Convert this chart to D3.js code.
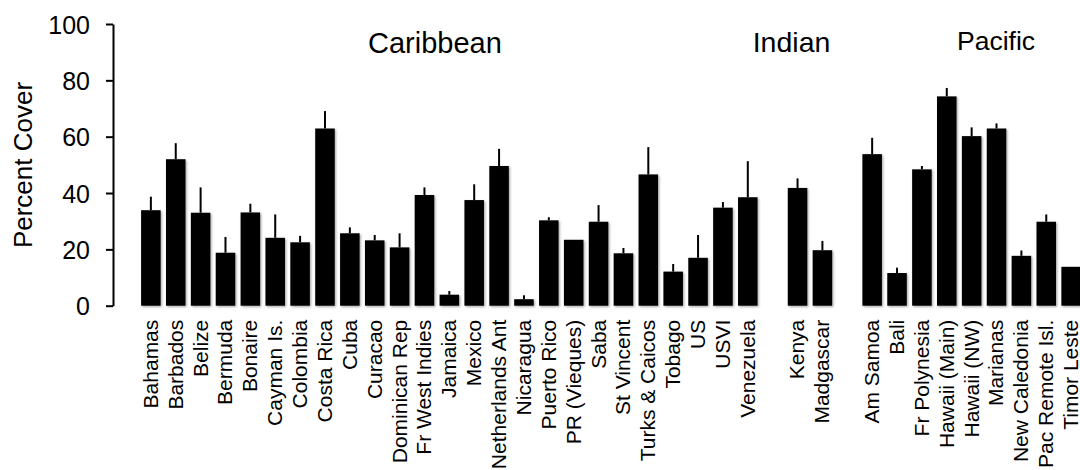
<!DOCTYPE html>
<html>
<head>
<meta charset="utf-8">
<script src="https://cdn.jsdelivr.net/npm/d3@7/dist/d3.min.js"></script>
<style>
  html, body { margin: 0; padding: 0; background: #fff; }
  svg { display: block; font-family: "Liberation Sans", Arial, Helvetica, sans-serif; }
</style>
</head>
<body>
<svg id="chart" width="1080" height="470"></svg>
<script>
// Percent cover by location, grouped by ocean region
const caribbean = ["Bahamas", "Barbados", "Belize", "Bermuda", "Bonaire", "Cayman Is.", "Colombia",
  "Costa Rica", "Cuba", "Curacao", "Dominican Rep", "Fr West Indies", "Jamaica", "Mexico",
  "Netherlands Ant", "Nicaragua", "Puerto Rico", "PR (Vieques)", "Saba", "St Vincent",
  "Turks & Caicos", "Tobago", "US", "USVI", "Venezuela"];
const caribbeanCover = [33.9, 52.0, 33.0, 18.8, 33.1, 24.1, 22.5, 62.9, 25.7, 23.2, 20.7, 39.3, 3.9,
  37.5, 49.6, 2.3, 30.3, 23.4, 29.8, 18.6, 46.6, 12.1, 17.0, 34.8, 38.5];
const caribbeanErr = [4.8, 5.7, 9.0, 5.6, 3.1, 8.3, 2.3, 6.2, 2.1, 1.9, 5.0, 2.7, 1.3, 5.6, 6.1,
  1.4, 1.1, 0, 5.9, 1.9, 9.7, 2.7, 8.1, 2.0, 12.8];

const indian = ["Kenya", "Madgascar"];
const indianCover = [41.8, 19.7];
const indianErr = [3.4, 3.3];

const pacific = ["Am Samoa", "Bali", "Fr Polynesia", "Hawaii (Main)", "Hawaii (NW)", "Marianas",
  "New Caledonia", "Pac Remote Isl.", "Timor Leste"];
const pacificCover = [53.8, 11.6, 48.4, 74.3, 60.2, 62.9, 17.7, 29.8, 13.8];
const pacificErr = [5.8, 1.9, 1.2, 3.0, 3.1, 1.8, 1.9, 2.6, 0];

const yTicks = [0, 20, 40, 60, 80, 100];
const regions = [
  { name: "Caribbean", anchor: "Fr West Indies", shift: 10.5, size: 29, base: 53 },
  { name: "Indian", anchor: "Kenya", shift: -6, size: 28.5, base: 52 },
  { name: "Pacific", anchor: "Marianas", shift: -0.5, size: 26.5, base: 49.5 }
];

// Build rows, with an empty slot between regions
const rows = [];
const addRegion = (names, cover, err) => names.forEach((n, i) => rows.push({ name: n, value: cover[i], err: err[i] }));
addRegion(caribbean, caribbeanCover, caribbeanErr);
rows.push({ name: "__gap1", gap: true });
addRegion(indian, indianCover, indianErr);
rows.push({ name: "__gap2", gap: true });
addRegion(pacific, pacificCover, pacificErr);
const bars = rows.filter(d => !d.gap);

const svg = d3.select("#chart");
const axisX = 113, plotTop = 24, plotBottom = 305.7;

const x = d3.scaleBand()
  .domain(rows.map(d => d.name))
  .range([axisX, 1109])
  .paddingInner(0.215)
  .paddingOuter(1.13);

const y = d3.scaleLinear().domain([0, 100]).range([plotBottom, plotTop]);

const defs = svg.append("defs");
const f = defs.append("filter").attr("id", "shadow")
  .attr("x", "-20%").attr("y", "-20%").attr("width", "160%").attr("height", "160%");
f.append("feDropShadow").attr("dx", 1.2).attr("dy", 1.2).attr("stdDeviation", 1.2)
  .attr("flood-color", "#000").attr("flood-opacity", 0.35);

// Bars
svg.append("g").selectAll("rect").data(bars).join("rect")
  .attr("x", d => x(d.name))
  .attr("y", d => y(d.value))
  .attr("width", x.bandwidth())
  .attr("height", d => y(0) - y(d.value))
  .attr("fill", "#000")
  .attr("filter", "url(#shadow)");

// Error bars (upper half)
svg.append("g").selectAll("line").data(bars.filter(d => d.err > 0)).join("line")
  .attr("x1", d => x(d.name) + x.bandwidth() / 2)
  .attr("x2", d => x(d.name) + x.bandwidth() / 2)
  .attr("y1", d => y(d.value))
  .attr("y2", d => y(d.value + d.err))
  .attr("stroke", "#000")
  .attr("stroke-width", 2);

// Y axis
const yAxis = svg.append("g")
  .attr("transform", `translate(${axisX},0)`)
  .call(d3.axisLeft(y).tickValues(yTicks).tickSize(7).tickSizeOuter(0).tickPadding(16));
yAxis.selectAll("path, line").attr("stroke", "#000").attr("stroke-width", 2);
yAxis.selectAll("text")
  .attr("font-size", 25)
  .attr("font-family", "'Liberation Sans', Arial, sans-serif")
  .attr("fill", "#000")
  .attr("dy", "0.36em");

// Category labels
const xAxis = svg.append("g")
  .attr("transform", `translate(0,${plotBottom})`)
  .call(d3.axisBottom(x).tickValues(bars.map(d => d.name)).tickSize(0));
xAxis.select(".domain").remove();
xAxis.selectAll("text")
  .attr("font-size", 21)
  .attr("font-family", "'Liberation Sans', Arial, sans-serif")
  .attr("fill", "#000")
  .attr("transform", "rotate(-90)")
  .attr("text-anchor", "end")
  .attr("x", -14)
  .attr("y", 0)
  .attr("dy", "0.33em");

// Y axis title
svg.append("text")
  .attr("transform", `translate(32,165) rotate(-90)`)
  .attr("text-anchor", "middle")
  .attr("font-size", 26)
  .text("Percent Cover");

// Region labels
svg.append("g").selectAll("text").data(regions).join("text")
  .attr("x", d => x(d.anchor) + x.bandwidth() / 2 + d.shift)
  .attr("y", d => d.base)
  .attr("text-anchor", "middle")
  .attr("font-size", d => d.size)
  .text(d => d.name);
</script>
</body>
</html>
